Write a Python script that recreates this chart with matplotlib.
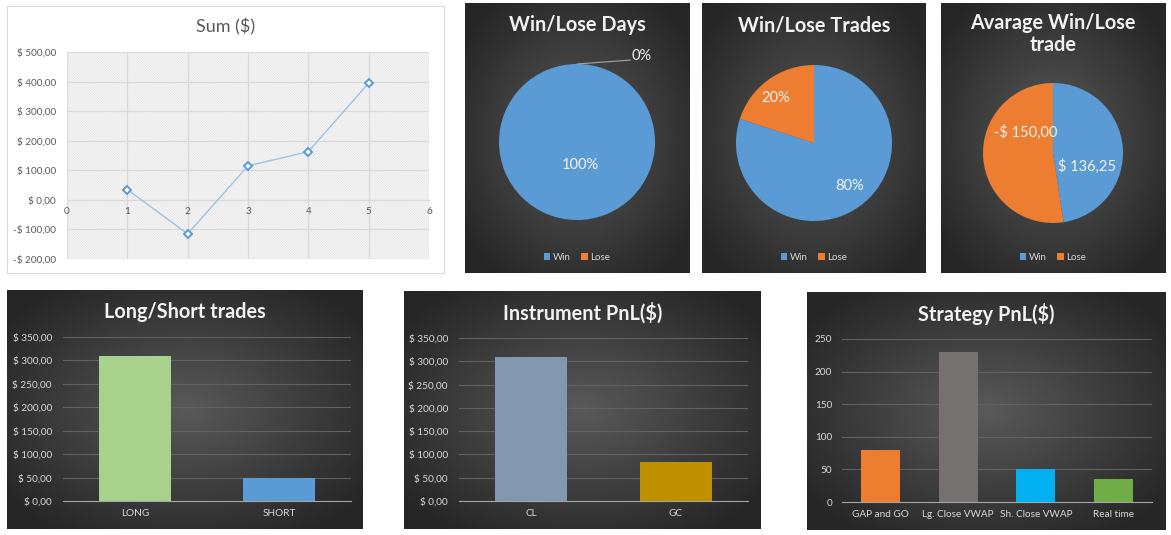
import numpy as np
import matplotlib.pyplot as plt

plt.rcParams['font.family'] = ['Lato', 'DejaVu Sans']
plt.rcParams['hatch.linewidth'] = 0.3

trade_no = [1, 2, 3, 4, 5]
cum_sum = [35, -115, 115, 163, 395]

pie_labels = ['Win', 'Lose']
days_pct = [100, 0]
trades_count = [4, 1]
avg_trade = [136.25, -150.00]

side_cats = ['LONG', 'SHORT']
side_pnl = [310, 50]

instr_cats = ['CL', 'GC']
instr_pnl = [310, 84]

strat_cats = ['GAP and GO', 'Lg. Close VWAP', 'Sh. Close VWAP', 'Real time']
strat_pnl = [80, 230, 50, 35]

W, H = 1171, 535
WIN_C, LOSE_C = '#5B9BD5', '#ED7D31'
TXT = '#d9d9d9'
TSIZE = 14.3

fig = plt.figure(figsize=(W / 100, H / 100), dpi=100)


def frac(x0, y0, x1, y1):
    # pixel box (top-left origin) -> figure fraction rect
    return [x0 / W, 1 - y1 / H, (x1 - x0) / W, (y1 - y0) / H]


def money(v, pos=None):
    s = f"{abs(v):.2f}".replace('.', ',')
    return ('-' if v < 0 else '') + '$ ' + s


def dark_panel(x0, y0, x1, y1):
    bg = fig.add_axes(frac(x0, y0, x1, y1), zorder=0)
    yy, xx = np.mgrid[-1:1:200j, -1:1:200j]
    r = np.clip(np.hypot(xx, yy) / 1.25, 0, 1)
    shade = 0.35 - 0.2 * r
    bg.imshow(shade, cmap='gray', vmin=0, vmax=1, aspect='auto', interpolation='bilinear')
    bg.axis('off')


def title(x, y, s, **kw):
    fig.text(x / W, 1 - y / H, s, ha='center', va='center', **kw)


# ---- Sum ($) line chart
bg = fig.add_axes(frac(7, 6, 444, 273), zorder=0)
bg.set_xticks([]); bg.set_yticks([])
for sp in bg.spines.values():
    sp.set_color('#d9d9d9')
title(226, 27, 'Sum ($)', color='#595959', fontsize=13)

ax = fig.add_axes(frac(67, 52, 429, 259), zorder=1)
ax.set_facecolor('white')
ax.add_patch(plt.Rectangle((0, 0), 1, 1, transform=ax.transAxes, fill=False,
                           hatch='\\' * 20, edgecolor='#d2d2d2', lw=0, zorder=0.2))
ax.plot(trade_no, cum_sum, color='#9dc3e6', lw=1, marker='D', ms=4.5,
        mfc='white', mec='#5b9bd5', mew=1.4, zorder=3)
ax.set_xlim(0, 6)
ax.set_ylim(-200, 500)
ax.set_xticks(range(0, 7))
ax.set_yticks(range(-200, 501, 100))
ax.yaxis.set_major_formatter(money)
ax.grid(color='#d9d9d9', lw=0.9)
ax.set_axisbelow(True)
for k in ['left', 'top', 'right']:
    ax.spines[k].set_visible(False)
ax.spines['bottom'].set_position(('data', 0))
ax.spines['bottom'].set_color('#d9d9d9')
ax.tick_params(length=0, labelsize=7.2, colors='#595959')
ax.tick_params(axis='y', pad=8)
ax.tick_params(axis='x', pad=5)


# ---- pies
def pie_panel(box, cx, cy, r, vals, texts, pos, ttl, ty):
    dark_panel(*box)
    title(cx, ty, ttl, color='#f2f2f2', fontsize=TSIZE, fontweight='bold', linespacing=1.1)
    ax = fig.add_axes(frac(cx - r, cy - r, cx + r, cy + r), zorder=1)
    wedges, _ = ax.pie(np.abs(vals), colors=[WIN_C, LOSE_C], startangle=90,
                       counterclock=False, wedgeprops=dict(lw=0))
    ax.set_xlim(-1, 1)
    ax.set_ylim(-1, 1)
    for t, p in zip(texts, pos):
        if t is None:
            continue
        ax.text(p[0], p[1], t, ha='center', va='center', color='#f2f2f2', fontsize=10.5)
    bx0, by0, bx1, by1 = box
    ax.legend(wedges, pie_labels, ncol=2, loc='center', frameon=False,
              bbox_to_anchor=((bx0 + bx1) / 2 / W, 1 - 257 / H), bbox_transform=fig.transFigure,
              fontsize=7, labelcolor=TXT, handlelength=0.7, handleheight=0.7,
              handletextpad=0.3, columnspacing=1.0)
    return ax


tot = sum(days_pct)
ax = pie_panel((465, 3, 689, 273), 577, 142, 78, days_pct,
               [f"{days_pct[0] / tot * 100:.0f}%", None], [(0.04, -0.29), None],
               'Win/Lose Days', 25)
ax.plot([0, 0.68], [1, 1.05], color='#a6a6a6', lw=0.8, clip_on=False)
ax.text(0.70, 1.10, f"{days_pct[1] / tot * 100:.0f}%", ha='left', va='center',
        color='#f2f2f2', fontsize=10.5, clip_on=False)

tot = sum(trades_count)
pie_panel((702, 3, 926, 273), 814, 143, 78, trades_count,
          [f"{v / tot * 100:.0f}%" for v in trades_count],
          [(0.46, -0.55), (-0.49, 0.58)], 'Win/Lose Trades', 25)

pie_panel((941, 3, 1165, 273), 1053, 153, 70, avg_trade,
          [money(v) for v in avg_trade],
          [(0.49, -0.19), (-0.39, 0.30)], 'Avarage Win/Lose\ntrade', 34)


# ---- bar charts
def bar_panel(box, plot, cats, vals, colors, ymax, ttl, fmt=None, ypad=8):
    dark_panel(*box)
    x0, y0, x1, y1 = box
    title((x0 + x1) / 2, y0 + 22, ttl, color='#f2f2f2', fontsize=TSIZE, fontweight='bold')
    ax = fig.add_axes(frac(*plot), zorder=1)
    ax.set_facecolor('none')
    ax.bar(range(len(cats)), vals, width=0.5, color=colors, zorder=2)
    ax.set_xticks(range(len(cats)))
    ax.set_xticklabels(cats)
    ax.set_xlim(-0.5, len(cats) - 0.5)
    ax.set_ylim(0, ymax)
    ax.set_yticks(range(0, ymax + 1, 50))
    if fmt:
        ax.yaxis.set_major_formatter(fmt)
    ax.grid(axis='y', color='#626262', lw=0.8)
    ax.set_axisbelow(True)
    for k in ['left', 'top', 'right']:
        ax.spines[k].set_visible(False)
    ax.spines['bottom'].set_color('#a6a6a6')
    ax.tick_params(length=0, labelsize=7.2, colors=TXT)
    ax.tick_params(axis='y', pad=ypad)
    ax.tick_params(axis='x', pad=6)


bar_panel((7, 290, 363, 529), (63, 337, 351, 501), side_cats, side_pnl,
          ['#A9D18E', '#5B9BD5'], 350, 'Long/Short trades', money)
bar_panel((404, 291, 761, 529), (459, 338, 748, 501), instr_cats, instr_pnl,
          ['#8497B0', '#BF9000'], 350, 'Instrument PnL($)', money)
bar_panel((807, 292, 1165, 530), (842, 339, 1152, 502), strat_cats, strat_pnl,
          ['#ED7D31', '#767171', '#00B0F0', '#70AD47'], 250, 'Strategy PnL($)', ypad=7)

fig.savefig('out.png', dpi=100)
